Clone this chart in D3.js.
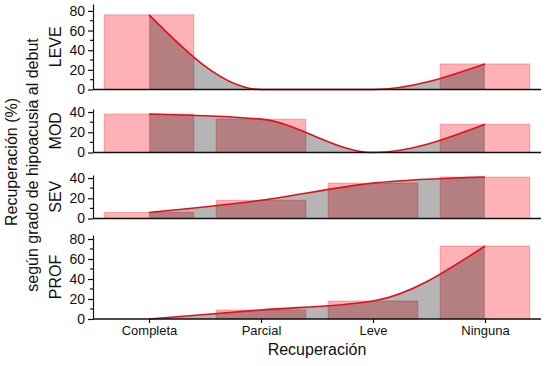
<!DOCTYPE html>
<html>
<head>
<meta charset="utf-8">
<script src="https://cdn.jsdelivr.net/npm/d3@7"></script>
<style>
  body { margin: 0; background: #fff; }
  text { font-family: "Liberation Sans", Arial, sans-serif; fill: #111; }
</style>
</head>
<body>
<script>
// data
var categories = ["Completa", "Parcial", "Leve", "Ninguna"];
var panels = ["LEVE", "MOD", "SEV", "PROF"];
var leve = [76, 0, 0, 26];
var mod = [38, 33, 0, 28];
var sev = [6, 18, 35, 41];
var prof = [0, 9, 18, 73];
var yMax = [87, 43, 43, 84];
var yTicks = [[0, 20, 40, 60, 80], [0, 20, 40], [0, 20, 40], [0, 20, 40, 60, 80]];
var yMinor = [[10, 30, 50, 70], [10, 30], [10, 30], [10, 30, 50, 70]];
var series = [leve, mod, sev, prof];

function main() {
  var width = 555, height = 366;

  var svg = d3.select("body").append("svg")
    .attr("width", width)
    .attr("height", height);

  // panel layout (pixel positions)
  var left = 93, right = 541;
  var bottoms = [89.5, 152.5, 218.5, 319];
  var tops = [4, 109, 175, 235];

  var x = d3.scalePoint().domain(categories).range([left, right]).padding(0.5);
  var barW = x.step() * 0.8;

  panels.forEach(function (name, i) {
    var vals = series[i];
    var y = d3.scaleLinear().domain([0, yMax[i]]).range([bottoms[i], tops[i]]);
    var pts = categories.map(function (c, j) { return { c: c, v: vals[j] }; });
    var g = svg.append("g").attr("class", "panel");

    // bars, centred on the category
    g.selectAll("rect")
      .data(pts.filter(function (d) { return d.v > 0; }))
      .enter()
      .append("rect")
      .attr("x", function (d) { return x(d.c) - barW / 2; })
      .attr("y", function (d) { return y(d.v); })
      .attr("width", barW)
      .attr("height", function (d) { return y(0) - y(d.v); })
      .attr("fill", "rgba(255,0,10,0.3)")
      .attr("stroke", "rgba(200,0,0,0.25)")
      .attr("stroke-width", 1);

    // grey area under the smooth curve
    var area = d3.area()
      .curve(d3.curveMonotoneX)
      .x(function (d) { return x(d.c); })
      .y0(y(0))
      .y1(function (d) { return y(d.v); });
    g.append("path")
      .datum(pts)
      .attr("d", area)
      .attr("fill", "rgba(0,0,0,0.29)");

    var line = d3.line()
      .curve(d3.curveMonotoneX)
      .x(function (d) { return x(d.c); })
      .y(function (d) { return y(d.v); });
    g.append("path")
      .datum(pts)
      .attr("d", line)
      .attr("fill", "none")
      .attr("stroke", "#e0101a")
      .attr("stroke-width", 1.6);

    // y axis with minor ticks
    var yAxis = d3.axisLeft(y).tickValues(yTicks[i]).tickSize(5).tickPadding(3).tickSizeOuter(0);
    var ya = g.append("g").attr("transform", "translate(" + left + ",0)").call(yAxis);
    ya.selectAll("text").style("font-size", "14px");
    ya.select(".domain").attr("stroke", "#111").attr("stroke-width", 1.2);
    ya.selectAll(".tick line").attr("stroke", "#111").attr("stroke-width", 1.2);
    ya.selectAll(".minor")
      .data(yMinor[i])
      .enter()
      .append("line")
      .attr("class", "minor")
      .attr("x1", -3).attr("x2", 0)
      .attr("y1", function (d) { return y(d); })
      .attr("y2", function (d) { return y(d); })
      .attr("stroke", "#111")
      .attr("stroke-width", 1.2);

    // baseline
    g.append("line")
      .attr("x1", left).attr("x2", right)
      .attr("y1", y(0)).attr("y2", y(0))
      .attr("stroke", "#111")
      .attr("stroke-width", 1.4);

    // panel label
    g.append("text")
      .attr("transform", "translate(61," + (bottoms[i] + tops[i]) / 2 + ") rotate(-90)")
      .attr("text-anchor", "middle")
      .style("font-size", "16px")
      .text(name);

    // x axis only on the last panel
    if (i === panels.length - 1) {
      var xa = g.append("g")
        .attr("transform", "translate(0," + y(0) + ")")
        .call(d3.axisBottom(x).tickSize(4).tickPadding(3).tickSizeOuter(0));
      xa.select(".domain").remove();
      xa.selectAll("text").style("font-size", "13px");
      xa.selectAll(".tick line").attr("stroke", "#111").attr("stroke-width", 1.2);
    }
  });

  svg.append("text")
    .attr("x", (left + right) / 2)
    .attr("y", 355)
    .attr("text-anchor", "middle")
    .style("font-size", "16px")
    .text("Recuperación");

  // y title, two lines
  svg.append("text")
    .attr("transform", "translate(17,162) rotate(-90)")
    .attr("text-anchor", "middle")
    .style("font-size", "16px")
    .text("Recuperación (%)");
  svg.append("text")
    .attr("transform", "translate(38,165) rotate(-90)")
    .attr("text-anchor", "middle")
    .style("font-size", "16px")
    .text("según grado de hipoacusia al debut");
}
main();
</script>
</body>
</html>
